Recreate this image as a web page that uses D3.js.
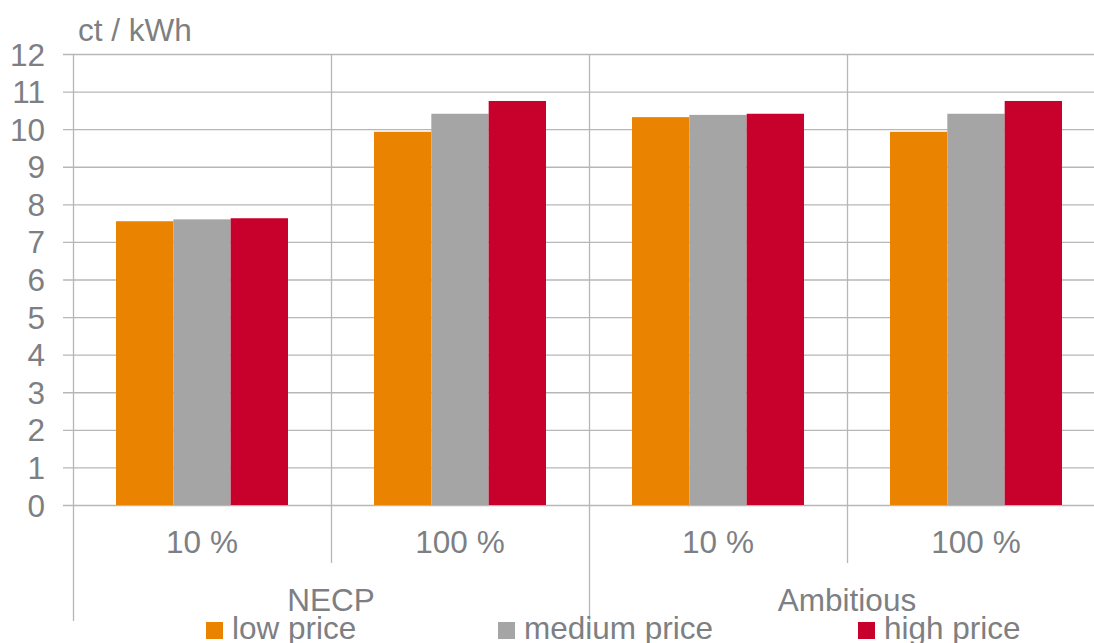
<!DOCTYPE html>
<html>
<head>
<meta charset="utf-8">
<script src="https://cdn.jsdelivr.net/npm/d3@7"></script>
<style>
  html, body { margin: 0; padding: 0; background: #fff; overflow: hidden; }
  svg { display: block; font-family: "Liberation Sans", Arial, sans-serif; }
</style>
</head>
<body>
<svg id="chart" width="1094" height="643"></svg>
<script>
// Levelised cost per scenario and share, three price paths
const scenarios = ["NECP", "Ambitious"];
const shares = ["10 %", "100 %"];
const series = ["low price", "medium price", "high price"];
const colors = ["#e98300", "#a5a5a5", "#c8002c"];
const lowPrice = [7.55, 9.93, 10.32, 9.93];
const mediumPrice = [7.60, 10.41, 10.38, 10.41];
const highPrice = [7.63, 10.75, 10.41, 10.75];
const yTicks = [0, 1, 2, 3, 4, 5, 6, 7, 8, 9, 10, 11, 12];
const unitLabel = "ct / kWh";

const categories = [];
scenarios.forEach(s => shares.forEach(p => categories.push({ scenario: s, share: p, key: s + "|" + p })));
const values = [lowPrice, mediumPrice, highPrice];

const svg = d3.select("#chart");
const textColor = "#7d7f83";
const gridColor = "#b7b7b7";
const fontSize = 31.5;

const plotLeft = 73, plotRight = 1105, plotTop = 54, plotBottom = 505;

const x0 = d3.scaleBand().domain(categories.map(c => c.key)).range([plotLeft, plotRight]).paddingInner(0).paddingOuter(0);
const x1 = d3.scaleBand().domain(series).range([0, x0.bandwidth()]).paddingInner(0).paddingOuter(0.75);
const y = d3.scaleLinear().domain([0, 12]).range([plotBottom, plotTop]);

// horizontal gridlines with short outer ticks
svg.append("g").selectAll("line").data(yTicks).join("line")
  .attr("x1", plotLeft - 10).attr("x2", 1094)
  .attr("y1", d => y(d) + 0.5).attr("y2", d => y(d) + 0.5)
  .attr("stroke", gridColor).attr("stroke-width", 1.3);

// y tick labels
svg.append("g").selectAll("text").data(yTicks).join("text")
  .attr("x", 45).attr("y", d => y(d) + 11.5)
  .attr("text-anchor", "end")
  .attr("fill", textColor)
  .attr("font-size", fontSize)
  .text(d => d);

svg.append("text")
  .attr("x", 78).attr("y", 41)
  .attr("fill", textColor).attr("font-size", fontSize)
  .text(unitLabel);

// vertical separators: inner (share) and outer (scenario)
const scenarioWidth = x0.bandwidth() * shares.length;
const dividers = categories.map((c, i) => ({ x: x0(c.key), long: i % shares.length === 0 }));
svg.append("g").selectAll("line").data(dividers).join("line")
  .attr("x1", d => Math.round(d.x) + 0.5).attr("x2", d => Math.round(d.x) + 0.5)
  .attr("y1", plotTop).attr("y2", d => d.long ? 621 : 563)
  .attr("stroke", gridColor).attr("stroke-width", 1.3);

// bars
const groups = svg.append("g").selectAll("g").data(categories).join("g")
  .attr("transform", c => `translate(${x0(c.key)},0)`);
groups.selectAll("rect")
  .data((c, i) => series.map((s, j) => ({ s, j, v: values[j][i] })))
  .join("rect")
  .attr("x", d => x1(d.s))
  .attr("width", x1.bandwidth())
  .attr("y", d => y(d.v))
  .attr("height", d => y(0) - y(d.v))
  .attr("fill", d => colors[d.j]);

// share labels
svg.append("g").selectAll("text").data(categories).join("text")
  .attr("x", c => x0(c.key) + x0.bandwidth() / 2)
  .attr("y", 553)
  .attr("text-anchor", "middle")
  .attr("fill", textColor).attr("font-size", fontSize)
  .text(c => c.share);

// scenario labels
svg.append("g").selectAll("text").data(scenarios).join("text")
  .attr("x", (s, i) => plotLeft + scenarioWidth * i + scenarioWidth / 2)
  .attr("y", 611)
  .attr("text-anchor", "middle")
  .attr("fill", textColor).attr("font-size", fontSize)
  .text(s => s);

// legend
const legendX = [206, 498, 858];
const legend = svg.append("g").selectAll("g").data(series).join("g")
  .attr("transform", (s, i) => `translate(${legendX[i]},622)`);
legend.append("rect").attr("width", 17).attr("height", 17).attr("fill", (s, i) => colors[i]);
legend.append("text")
  .attr("x", 26).attr("y", 16.5)
  .attr("fill", textColor).attr("font-size", fontSize)
  .text(s => s);
</script>
</body>
</html>
